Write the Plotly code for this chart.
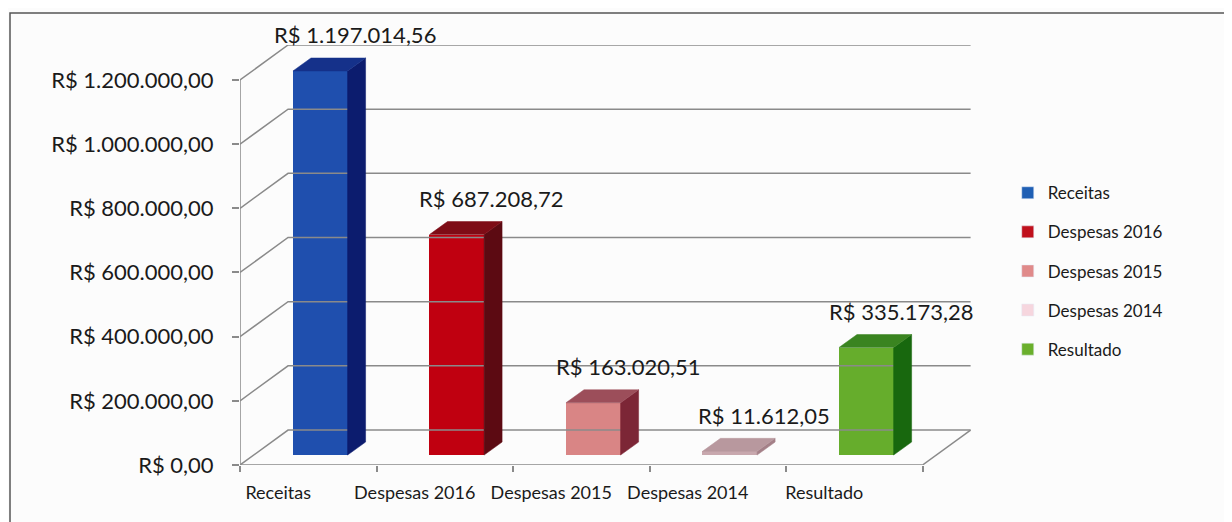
import plotly.graph_objects as go

categories = ["Receitas", "Despesas 2016", "Despesas 2015", "Despesas 2014", "Resultado"]
values = [1197014.56, 687208.72, 163020.51, 11612.05, 335173.28]
value_labels = ["R$ 1.197.014,56", "R$ 687.208,72", "R$ 163.020,51", "R$ 11.612,05", "R$ 335.173,28"]
y_ticks = [0, 200000, 400000, 600000, 800000, 1000000, 1200000]
y_tick_labels = ["R$ 0,00", "R$ 200.000,00", "R$ 400.000,00", "R$ 600.000,00",
                 "R$ 800.000,00", "R$ 1.000.000,00", "R$ 1.200.000,00"]

front_colors = ["#1f4fae", "#c00010", "#d98585", "#c8a8ae", "#66ad2c"]
side_colors = ["#0c1c6e", "#5c0a12", "#7c2636", "#a48088", "#18680e"]
top_colors = ["#15318a", "#7e0c16", "#9c4e5a", "#b8989e", "#3a8420"]
legend_colors = ["#1f5fb4", "#c0101c", "#e08a8a", "#f6d6de", "#6aaf2c"]

FONT = "Lato, 'Open Sans', sans-serif"
GRID = "#8a8a8a"

# fake 3D: depth offsets in data units
DX, DY = 0.352, 109000          # full depth of the floor / wall
BAR_DX, BAR_DY = 0.088, 31000   # how far back the front face of a bar sits
DEPTH_DX, DEPTH_DY = 0.132, 40500  # depth of a bar
BAR_W = 0.40
n = len(categories)
x_left, x_right = -0.5, n - 0.5

fig = go.Figure()

# walls / floor gridlines
for v in y_ticks:
    fig.add_trace(go.Scatter(
        x=[x_left, x_left + DX, x_right + DX], y=[v, v + DY, v + DY],
        mode="lines", line=dict(color=GRID, width=1.5), showlegend=False,
        hoverinfo="skip", cliponaxis=False))
fig.add_trace(go.Scatter(
    x=[x_right, x_right + DX], y=[0, DY], mode="lines",
    line=dict(color=GRID, width=1.5), showlegend=False, hoverinfo="skip", cliponaxis=False))
# axis lines
fig.add_trace(go.Scatter(
    x=[x_left, x_right], y=[0, 0], mode="lines",
    line=dict(color=GRID, width=1.5), showlegend=False, hoverinfo="skip", cliponaxis=False))
fig.add_trace(go.Scatter(
    x=[x_left, x_left], y=[0, y_ticks[-1]], mode="lines",
    line=dict(color=GRID, width=1.5), showlegend=False, hoverinfo="skip", cliponaxis=False))

# side and top faces of each bar
for i, v in enumerate(values):
    xl = i + BAR_DX - BAR_W / 2
    xr = i + BAR_DX + BAR_W / 2
    top = BAR_DY + v
    fig.add_trace(go.Scatter(
        x=[xr, xr + DEPTH_DX, xr + DEPTH_DX, xr, xr],
        y=[BAR_DY, BAR_DY + DEPTH_DY, top + DEPTH_DY, top, BAR_DY],
        fill="toself", fillcolor=side_colors[i], mode="lines",
        line=dict(color=side_colors[i], width=0.5), showlegend=False, hoverinfo="skip"))
    fig.add_trace(go.Scatter(
        x=[xl, xr, xr + DEPTH_DX, xl + DEPTH_DX, xl],
        y=[top, top, top + DEPTH_DY, top + DEPTH_DY, top],
        fill="toself", fillcolor=top_colors[i], mode="lines",
        line=dict(color=top_colors[i], width=0.5), showlegend=False, hoverinfo="skip"))

# front faces (+ a legend-only swatch per category)
for i, (cat, v) in enumerate(zip(categories, values)):
    fig.add_trace(go.Bar(
        x=[i + BAR_DX], y=[v], base=[BAR_DY], width=BAR_W, name=cat,
        legendgroup=cat, showlegend=False,
        marker=dict(color=front_colors[i], line=dict(width=0)),
        hovertemplate=f"{cat}: {value_labels[i]}<extra></extra>"))
    fig.add_trace(go.Bar(
        x=[None], y=[None], name=cat, legendgroup=cat,
        marker=dict(color=legend_colors[i]), showlegend=True))

for i, v in enumerate(values):
    fig.add_annotation(
        x=i + 0.34, y=v + BAR_DY, text=value_labels[i], showarrow=False,
        yanchor="middle", yshift=36, font=dict(family=FONT, size=22, color="#1a1a1a"))

# page body has an 8px margin, so the figure is 8px smaller and shifted
fig.update_layout(
    width=1224, height=514,
    margin=dict(l=232, r=258, t=37, b=57, autoexpand=False),
    paper_bgcolor="#fcfcfc", plot_bgcolor="rgba(0,0,0,0)",
    barmode="overlay", bargap=0,
    font=dict(family=FONT, color="#1a1a1a"),
    xaxis=dict(
        range=[x_left, 4.877], showgrid=False, zeroline=False, showline=False,
        automargin=False,
        tickmode="array", tickvals=[i - 0.22 for i in range(n)], ticktext=categories,
        ticks="", ticklabelstandoff=15, tickfont=dict(size=18, color="#1a1a1a"),
        minor=dict(tickvals=[i - 0.5 for i in range(n + 1)], ticks="outside",
                   ticklen=6, tickcolor=GRID, tickwidth=1.5),
    ),
    yaxis=dict(
        range=[0, 1.309e6], showgrid=False, zeroline=False, showline=False,
        automargin=False,
        tickmode="array", tickvals=y_ticks, ticktext=y_tick_labels,
        ticks="outside", ticklen=7, tickcolor=GRID, tickwidth=1.5,
        ticklabelstandoff=14, tickfont=dict(size=22, color="#1a1a1a"),
    ),
    legend=dict(
        x=1.046, xanchor="left", y=0.69, yanchor="top",
        font=dict(family=FONT, size=17, color="#1a1a1a"),
        tracegroupgap=14, bgcolor="rgba(0,0,0,0)", itemwidth=30,
    ),
    showlegend=True,
    shapes=[dict(type="rect", xref="paper", yref="paper",
                 x0=(10 - 240) / 734, x1=(1240 - 240) / 734,
                 y0=(465 - 530) / 420, y1=(465 - 13) / 420,
                 line=dict(color="#555555", width=1.5), fillcolor="rgba(0,0,0,0)",
                 layer="below")],
)

fig.write_html("out.html")
